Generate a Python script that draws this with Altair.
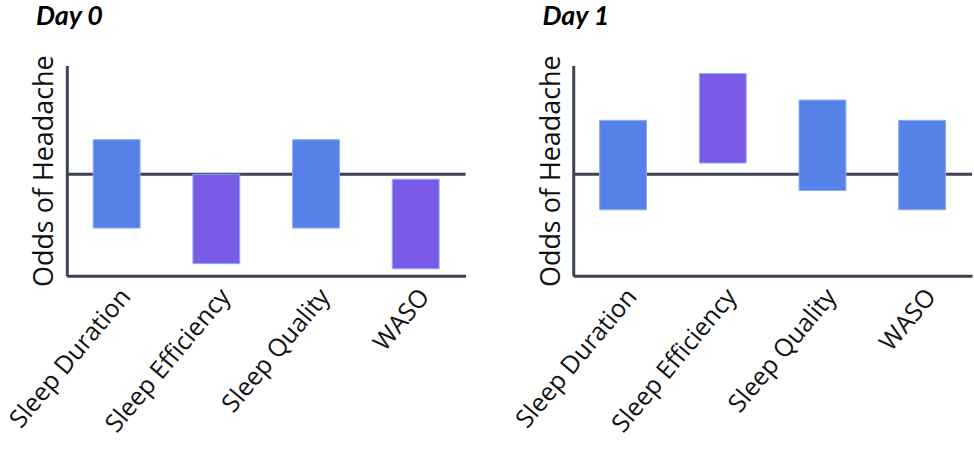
import altair as alt
import pandas as pd

# Sleep measures on the x axis
measures = ["Sleep Duration", "Sleep Efficiency", "Sleep Quality", "WASO"]

# Odds-ratio intervals (lower, upper) per measure
day0_low = [0.47, 0.12, 0.47, 0.07]
day0_high = [1.34, 1.00, 1.34, 0.95]
day0_sig = ["no", "yes", "no", "yes"]

day1_low = [0.65, 1.11, 0.84, 0.65]
day1_high = [1.53, 1.99, 1.73, 1.53]
day1_sig = ["no", "yes", "no", "no"]

# Reference line: odds ratio of 1
ref_value = [1.0]

AXIS_COLOR = "#3B4250"
BLUE = "#5581E8"
PURPLE = "#7B5AE8"
HAND_FONT = "Open Sans"


def panel(title, low, high, sig):
    df = pd.DataFrame({"measure": measures, "low": low, "high": high, "significant": sig})
    y_scale = alt.Scale(domain=[0, 2.07], nice=False, zero=False)

    bars = alt.Chart(df).mark_bar(stroke="#8DABF3", strokeWidth=1).encode(
        x=alt.X(
            "measure:N",
            sort=measures,
            title=None,
            scale=alt.Scale(paddingInner=0.53, paddingOuter=0.265),
            axis=alt.Axis(
                labelAngle=-50,
                labelAlign="right",
                labelBaseline="middle",
                labelFont=HAND_FONT,
                labelFontSize=25,
                labelColor="#111111",
                labelPadding=16,
                labelOffset=9,
                labelLimit=400,
                ticks=False,
                domainColor=AXIS_COLOR,
                domainWidth=3,
            ),
        ),
        y=alt.Y(
            "low:Q",
            scale=y_scale,
            title="Odds of Headache",
            axis=alt.Axis(
                labels=False,
                ticks=False,
                grid=False,
                domainColor=AXIS_COLOR,
                domainWidth=3,
                titleFont=HAND_FONT,
                titleFontSize=27,
                titleFontWeight="normal",
                titleColor="#111111",
                titlePadding=8,
            ),
        ),
        y2="high:Q",
        color=alt.Color(
            "significant:N",
            scale=alt.Scale(domain=["no", "yes"], range=[BLUE, PURPLE]),
            legend=None,
        ),
    )

    rule = alt.Chart(pd.DataFrame({"odds": ref_value})).mark_rule(
        color=AXIS_COLOR, strokeWidth=3
    ).encode(y=alt.Y("odds:Q", scale=y_scale))

    return alt.layer(rule, bars).properties(
        width=400,
        height=211,
        title=alt.TitleParams(
            title,
            anchor="start",
            font="Lato",
            fontSize=27,
            fontStyle="italic",
            fontWeight="bold",
            color="#000000",
            offset=24,
            dx=31,
        ),
    )


chart = alt.hconcat(
    panel("Day 0", day0_low, day0_high, day0_sig),
    panel("Day 1", day1_low, day1_high, day1_sig),
    spacing=44,
).properties(
    padding={"left": 5, "right": 0, "top": 2, "bottom": 0}
).configure_view(stroke=None).configure_axis(grid=False)

chart.save("out.html", embed_options={"renderer": "svg", "actions": False})
